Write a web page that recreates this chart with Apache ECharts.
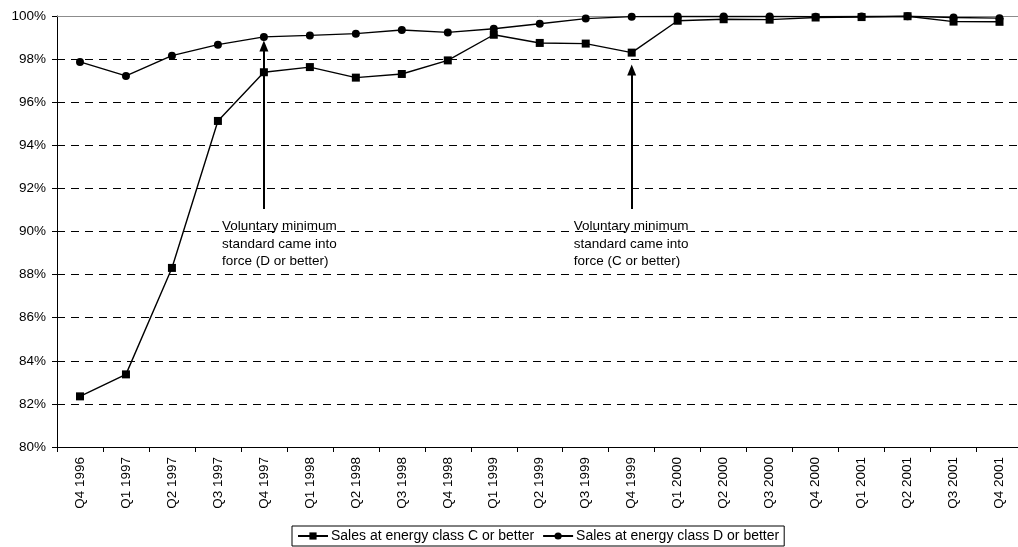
<!DOCTYPE html>
<html>
<head>
<meta charset="utf-8">
<script src="https://cdn.jsdelivr.net/npm/echarts@6/dist/echarts.min.js"></script>
<style>
html,body{margin:0;padding:0;background:#fff;}
#chart{width:1018px;height:547px;}
</style>
</head>
<body>
<div id="chart"></div>
<script>
const categories = ['Q4 1996','Q1 1997','Q2 1997','Q3 1997','Q4 1997','Q1 1998','Q2 1998','Q3 1998','Q4 1998','Q1 1999','Q2 1999','Q3 1999','Q4 1999','Q1 2000','Q2 2000','Q3 2000','Q4 2000','Q1 2001','Q2 2001','Q3 2001','Q4 2001'];
const seriesNames = ['Sales at energy class C or better','Sales at energy class D or better'];
const classC = [82.35, 83.37, 88.31, 95.13, 97.39, 97.63, 97.14, 97.31, 97.94, 99.13, 98.75, 98.72, 98.30, 99.78, 99.85, 99.83, 99.93, 99.95, 99.99, 99.74, 99.73];
const classD = [97.87, 97.22, 98.16, 98.67, 99.03, 99.10, 99.18, 99.35, 99.24, 99.41, 99.64, 99.88, 99.97, 99.98, 99.98, 99.98, 99.97, 99.98, 99.99, 99.93, 99.90];
const yTicks = {min: 80, max: 100, interval: 2};
const annotationCats = ['Q4 1997', 'Q4 1999'];
const arrowFrom = [91.04, 91.04];
const arrowTo = [98.61, 97.49];
const annotationTextY = [89.42, 89.42];
const annotationText = [
  'Voluntary minimum\nstandard came into\nforce (D or better)',
  'Voluntary minimum\nstandard came into\nforce (C or better)'
];

const FONT = '"Liberation Sans", Arial, sans-serif';
const chart = echarts.init(document.getElementById('chart'), null, {renderer: 'canvas'});
const textOffsets = [[-42, 0], [-58, 0]];

chart.setOption({
  animation: false,
  backgroundColor: '#fff',
  textStyle: {fontFamily: FONT, color: '#000'},
  grid: {left: 57, top: 16, width: 965.5, height: 431, containLabel: false, outerBoundsMode: 'none'},
  legend: {
    left: 292, top: 526,
    padding: [3, 5, 3, 5],
    itemGap: 8,
    itemWidth: 30, itemHeight: 9,
    borderColor: '#000', borderWidth: 1,
    textStyle: {fontFamily: FONT, fontSize: 14, color: '#000', padding: [0, 0, 0, -2]},
    data: seriesNames
  },
  xAxis: [{
    type: 'category',
    data: categories,
    boundaryGap: true,
    axisLine: {lineStyle: {color: '#000', width: 1}},
    axisTick: {show: true, length: 5, lineStyle: {color: '#000'}},
    axisLabel: {rotate: 90, margin: 10, fontFamily: FONT, fontSize: 13.5, color: '#000', interval: 0},
    splitLine: {show: false}
  }, {
    type: 'category',
    data: categories,
    position: 'top',
    boundaryGap: true,
    axisLine: {show: true, lineStyle: {color: '#8c8c8c', width: 1}},
    axisTick: {show: false},
    axisLabel: {show: false},
    splitLine: {show: false}
  }],
  yAxis: {
    type: 'value',
    min: yTicks.min, max: yTicks.max, interval: yTicks.interval,
    axisLine: {show: true, lineStyle: {color: '#000', width: 1}},
    axisTick: {show: true, length: 5, lineStyle: {color: '#000'}},
    axisLabel: {formatter: v => v + '%', margin: 11, fontFamily: FONT, fontSize: 13.5, color: '#000'},
    splitLine: {show: true, lineStyle: {color: '#000', width: 1, type: [8, 6]}}
  },
  series: [{
    name: seriesNames[0],
    type: 'line',
    data: classC,
    symbol: 'rect',
    symbolSize: 8,
    color: '#000',
    lineStyle: {color: '#000', width: 1.4},
    itemStyle: {color: '#000'},
    z: 3,
    markLine: {
      silent: true,
      symbol: ['none', 'triangle'],
      symbolSize: [9, 11],
      label: {show: false},
      lineStyle: {color: '#000', width: 2, type: 'solid'},
      data: annotationCats.map((c, i) => [
        {coord: [c, arrowFrom[i]]},
        {coord: [c, arrowTo[i]]}
      ])
    },
    markPoint: {
      silent: true,
      symbol: 'circle',
      symbolSize: 0,
      itemStyle: {color: 'rgba(0,0,0,0)'},
      label: {
        show: true,
        position: 'right',
        distance: 0,
        align: 'left',
        fontFamily: FONT, fontSize: 13.5, lineHeight: 17.5, color: '#000'
      },
      data: annotationCats.map((c, i) => ({
        coord: [c, annotationTextY[i]],
        label: {formatter: annotationText[i], offset: textOffsets[i]}
      }))
    }
  }, {
    name: seriesNames[1],
    type: 'line',
    data: classD,
    symbol: 'circle',
    symbolSize: 8,
    color: '#000',
    lineStyle: {color: '#000', width: 1.4},
    itemStyle: {color: '#000'},
    z: 4
  }]
});
</script>
</body>
</html>
